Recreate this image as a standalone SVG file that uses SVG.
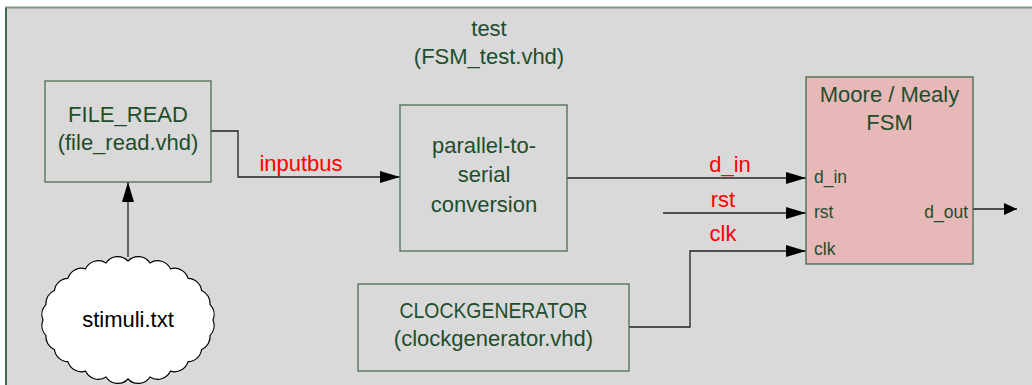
<svg xmlns="http://www.w3.org/2000/svg" width="1032" height="385" viewBox="0 0 1032 385">
<style>
  .t { font-family: "Liberation Sans", Arial, sans-serif; font-size: 22px; fill: #1f4d2c; text-anchor: middle; }
  .lbl { font-family: "Liberation Sans", Arial, sans-serif; font-size: 22px; fill: #ff0000; text-anchor: middle; }
  .port { font-family: "Liberation Sans", Arial, sans-serif; font-size: 17.5px; fill: #1f4d2c; }
  .box { fill: #d9d9d9; stroke: #4a6e52; stroke-width: 1.3; }
  .wire { fill: none; stroke: #222; stroke-width: 1.3; }
</style>
<defs>
  <marker id="arr" markerUnits="userSpaceOnUse" markerWidth="20" markerHeight="12" refX="20" refY="6" orient="auto">
    <path d="M0,0 L20,6 L0,12 z" fill="#000"/>
  </marker>
  <marker id="arrs" markerUnits="userSpaceOnUse" markerWidth="13" markerHeight="12" refX="13" refY="6" orient="auto">
    <path d="M0,0 L13,6 L0,12 z" fill="#000"/>
  </marker>
</defs>
<rect x="0" y="0" width="1032" height="385" fill="#ffffff"/>
<g id="container">
  <rect x="6" y="7.5" width="1040" height="400" fill="#d9d9d9" stroke="#7f9683" stroke-width="2"/>
  <line x1="6" y1="8" x2="6" y2="385" stroke="#3f6a4a" stroke-width="2"/>
  <text class="t" x="489" y="36">test</text>
  <text class="t" x="489" y="64">(FSM_test.vhd)</text>
</g>
<g id="connectors">
  <path class="wire" d="M128,257 V182" marker-end="url(#arr)"/>
  <path class="wire" d="M211,131 H238 V177 H400" marker-end="url(#arr)"/>
  <path class="wire" d="M567,178 H806" marker-end="url(#arr)"/>
  <path class="wire" d="M663,213 H806" marker-end="url(#arr)"/>
  <path class="wire" d="M629,327 H690 V251 H806" marker-end="url(#arr)"/>
  <path class="wire" d="M973,209 H1017" marker-end="url(#arrs)"/>
  <text class="lbl" x="301" y="171">inputbus</text>
  <text class="lbl" x="730" y="172">d_in</text>
  <text class="lbl" x="723" y="207">rst</text>
  <text class="lbl" x="723" y="241">clk</text>
</g>
<g id="file_read">
  <rect class="box" x="45" y="81" width="166" height="101"/>
  <text class="t" x="128" y="122">FILE_READ</text>
  <text class="t" x="128" y="150">(file_read.vhd)</text>
</g>
<g id="p2s">
  <rect class="box" x="400" y="105" width="167" height="146"/>
  <text class="t" x="484" y="152.5">parallel-to-</text>
  <text class="t" x="484" y="182">serial</text>
  <text class="t" x="484" y="211.5">conversion</text>
</g>
<g id="clockgen">
  <rect class="box" x="358" y="284" width="271" height="87"/>
  <text class="t" x="493.5" y="318" textLength="188" lengthAdjust="spacingAndGlyphs">CLOCKGENERATOR</text>
  <text class="t" x="493.5" y="346">(clockgenerator.vhd)</text>
</g>
<g id="fsm">
  <rect x="806" y="77" width="167" height="187" fill="#e6b9b8" stroke="#3f6a4a" stroke-width="1.3"/>
  <text class="t" x="889.5" y="102">Moore / Mealy</text>
  <text class="t" x="889.5" y="129.5">FSM</text>
  <text class="port" x="814" y="183">d_in</text>
  <text class="port" x="814" y="217.5">rst</text>
  <text class="port" x="814" y="254.5">clk</text>
  <text class="port" x="968" y="217.5" text-anchor="end">d_out</text>
</g>
<g id="stimuli">
  <path fill="#ffffff" stroke="#000" stroke-width="1.2" d="M213,320 A14,14 0 0 1 210.1,335.3 A14,14 0 0 1 201.6,349.5 A14,14 0 0 1 188.1,361.7 A14,14 0 0 1 170.5,371.1 A14,14 0 0 1 150,377 A14,14 0 0 1 128,379 A14,14 0 0 1 106,377 A14,14 0 0 1 85.5,371.1 A14,14 0 0 1 67.9,361.7 A14,14 0 0 1 54.4,349.5 A14,14 0 0 1 45.9,335.3 A14,14 0 0 1 43,320 A14,14 0 0 1 45.9,304.7 A14,14 0 0 1 54.4,290.5 A14,14 0 0 1 67.9,278.3 A14,14 0 0 1 85.5,268.9 A14,14 0 0 1 106,263 A14,14 0 0 1 128,261 A14,14 0 0 1 150,263 A14,14 0 0 1 170.5,268.9 A14,14 0 0 1 188.1,278.3 A14,14 0 0 1 201.6,290.5 A14,14 0 0 1 210.1,304.7 A14,14 0 0 1 213,320 z"/>
  <text class="t" x="128" y="327" style="fill:#000">stimuli.txt</text>
</g>
</svg>
